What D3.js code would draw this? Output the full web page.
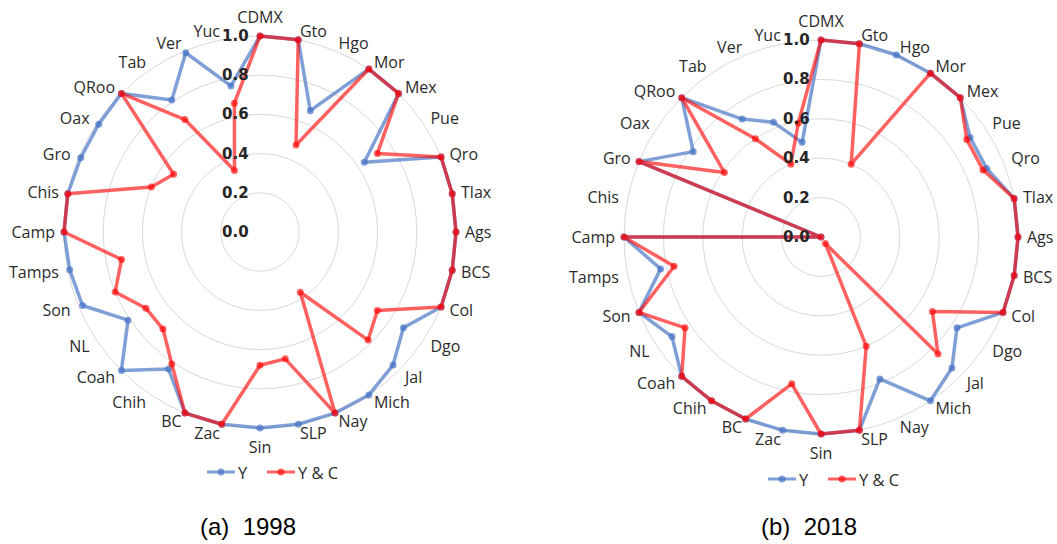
<!DOCTYPE html>
<html>
<head>
<meta charset="utf-8">
<script src="https://cdn.jsdelivr.net/npm/d3@7"></script>
<style>
  body { margin: 0; background: #fff; }
  svg { display: block; }
</style>
</head>
<body>
<svg id="chart" width="1057" height="544"></svg>
<script>
// categories (clockwise from top)
const states = ["CDMX", "Gto", "Hgo", "Mor", "Mex", "Pue", "Qro", "Tlax", "Ags", "BCS", "Col", "Dgo",
  "Jal", "Mich", "Nay", "SLP", "Sin", "Zac", "BC", "Chih", "Coah", "NL", "Son", "Tamps",
  "Camp", "Chis", "Gro", "Oax", "QRoo", "Tab", "Ver", "Yuc"];

// 1998
const y1998 = [1.0, 1.0, 0.67, 1.0, 1.0, 0.64, 1.0, 1.0, 1.0, 1.0, 1.0, 0.88,
  0.96, 1.0, 1.0, 1.0, 1.0, 1.0, 1.0, 0.84, 1.0, 0.81, 0.98, 0.99,
  1.0, 1.0, 0.99, 0.99, 1.0, 0.81, 0.99, 0.76];
const yc1998 = [1.0, 1.0, 0.48, 1.0, 1.0, 0.72, 1.0, 1.0, 1.0, 1.0, 1.0, 0.72,
  0.78, 0.37, 1.0, 0.66, 0.68, 1.0, 1.0, 0.81, 0.70, 0.70, 0.80, 0.72,
  1.0, 1.0, 0.60, 0.53, 1.0, 0.69, 0.34, 0.67];

// 2018
const y2018 = [1.0, 1.0, 1.0, 1.0, 1.0, 0.91, 0.91, 1.0, 1.0, 1.0, 1.0, 0.83,
  0.94, 1.0, 0.78, 1.0, 1.0, 1.0, 1.0, 1.0, 1.0, 0.91, 1.0, 0.83,
  1.0, 0.0, 1.0, 0.78, 1.0, 0.72, 0.63, 0.49];
const yc2018 = [1.0, 1.0, 0.40, 1.0, 1.0, 0.89, 0.89, 1.0, 1.0, 1.0, 1.0, 0.68,
  0.84, 0.04, 0.60, 1.0, 1.0, 0.76, 1.0, 1.0, 1.0, 0.83, 1.0, 0.76,
  1.0, 0.0, 1.0, 0.59, 1.0, 0.60, 0.40, 0.59];

const ticks = [0.0, 0.2, 0.4, 0.6, 0.8, 1.0];
const seriesNames = ["Y", "Y & C"];
const captions = ["(a)  1998", "(b)  2018"];

const color_y = "rgba(68,114,196,0.68)";
const color_yc = "rgba(255,0,0,0.62)";
const color_grid = "#d9d9d9";
const color_text = "#2b2b2b";

let svg = d3.select("#chart");

function radar(cx, cy, R, series, legendY, caption) {
  let g = svg.append("g").attr("transform", `translate(${cx},${cy})`);

  let r = d3.scaleLinear().domain([0, 1]).range([0, R]);
  let angle = d3.scalePoint().domain(states).range([0, 2 * Math.PI * (states.length - 1) / states.length]);

  // gridlines
  g.selectAll(".grid")
    .data(ticks.filter((t) => t > 0))
    .enter()
    .append("circle")
    .attr("r", (d) => r(d))
    .attr("fill", "none")
    .attr("stroke", color_grid)
    .attr("stroke-width", 1);

  // series
  let line = d3.lineRadial()
    .angle((d, i) => angle(states[i]))
    .radius((d) => r(d))
    .curve(d3.curveLinearClosed);

  series.forEach(function (s) {
    g.append("path")
      .datum(s.values)
      .attr("d", line)
      .attr("fill", "none")
      .attr("stroke", s.color)
      .attr("stroke-width", 3.5)
      .attr("stroke-linejoin", "round");
    g.selectAll(null)
      .data(s.values)
      .enter()
      .append("circle")
      .attr("cx", (d, i) => r(d) * Math.sin(angle(states[i])))
      .attr("cy", (d, i) => -r(d) * Math.cos(angle(states[i])))
      .attr("r", 3.5)
      .attr("fill", s.color);
  });

  // tick labels
  g.selectAll(".tick")
    .data(ticks)
    .enter()
    .append("text")
    .attr("x", -38)
    .attr("y", (d) => -r(d))
    .attr("dominant-baseline", "central")
    .attr("font-family", "DejaVu Sans")
    .attr("font-weight", "bold")
    .attr("font-size", 15)
    .attr("fill", "#262626")
    .text((d) => d.toFixed(1));

  // category labels
  g.selectAll(".cat")
    .data(states)
    .enter()
    .append("text")
    .attr("x", (d) => (R + 9) * Math.sin(angle(d)))
    .attr("y", function (d) {
      let s = Math.sin(angle(d)), c = Math.cos(angle(d));
      let y = -(R + 9) * c;
      return Math.abs(s) < 0.01 ? y - c * 10 : y;
    })
    .attr("text-anchor", function (d) {
      let s = Math.sin(angle(d));
      return s > 0.01 ? "start" : s < -0.01 ? "end" : "middle";
    })
    .attr("dominant-baseline", "central")
    .attr("font-family", "Open Sans")
    .attr("font-size", 16)
    .attr("fill", color_text)
    .text((d) => d);

  // legend
  let leg = svg.append("g").attr("transform", `translate(${cx - 53},${legendY})`);
  series.forEach(function (s, i) {
    let x0 = i * 60;
    leg.append("line")
      .attr("x1", x0).attr("x2", x0 + 28)
      .attr("stroke", s.color).attr("stroke-width", 3);
    leg.append("circle")
      .attr("cx", x0 + 14).attr("r", 3.5).attr("fill", s.color);
    leg.append("text")
      .attr("x", x0 + 31)
      .attr("dominant-baseline", "central")
      .attr("font-family", "Open Sans")
      .attr("font-size", 16.5)
      .attr("fill", color_text)
      .text(s.name);
  });

  // caption
  svg.append("text")
    .attr("x", cx - 12)
    .attr("y", 535)
    .attr("text-anchor", "middle")
    .attr("font-family", "Liberation Sans")
    .attr("font-size", 24)
    .attr("fill", "#000")
    .style("white-space", "pre")
    .text(caption);
}

radar(260, 232, 196, [
  { name: seriesNames[0], values: y1998, color: color_y },
  { name: seriesNames[1], values: yc1998, color: color_yc },
], 472, captions[0]);

radar(821, 237, 197, [
  { name: seriesNames[0], values: y2018, color: color_y },
  { name: seriesNames[1], values: yc2018, color: color_yc },
], 479, captions[1]);
</script>
</body>
</html>
